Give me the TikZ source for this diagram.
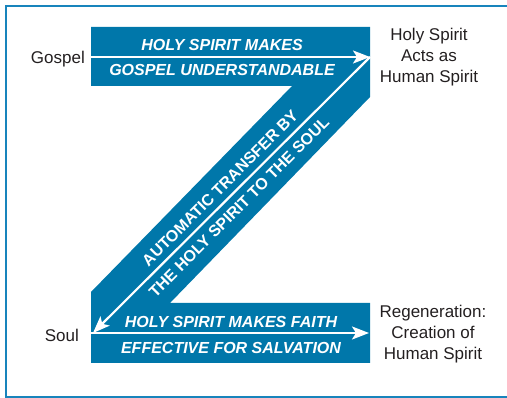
\documentclass[tikz,border=0pt]{standalone}
\usepackage{fontspec}
\setmainfont{Liberation Sans}
\usepackage{tikz}
\usetikzlibrary{calc,arrows.meta,positioning}
\definecolor{zblue}{RGB}{0,119,170}
\definecolor{frameblue}{RGB}{24,132,188}
\definecolor{labelgray}{RGB}{35,31,32}
\tikzset{
	bandtext/.style={text=white,inner sep=0pt,font=\fontsize{16}{16}\selectfont\bfseries\itshape},
	diagtext/.style={text=white,inner sep=0pt,rotate=45,font=\fontsize{16}{16}\selectfont\bfseries},
	sidelabel/.style={text=labelgray,inner sep=0pt,align=center,font=\fontsize{17}{21}\selectfont},
	whitearrow/.style={-{Stealth[length=17pt,width=13pt,inset=4pt]},white,line width=2.2pt}
}
\begin{document}
\begin{tikzpicture}[x=1pt,y=-1pt]
	\useasboundingbox (0,0) rectangle (507,398);
	% frame, open on the right
	\draw[frameblue,line width=2.5pt] (520,6) -- (6,6) -- (6,397) -- (520,397);
	% the Z band
	\fill[zblue] (91,27) -- (370,27) -- (370,97) -- (170,303) -- (370,303) -- (370,363)
		-- (91,363) -- (91,292) -- (292,86) -- (91,86) -- cycle;
	\coordinate(gin) at (91,57);
	\coordinate(gtip) at (370,57);
	\coordinate(sin) at (91,333);
	\coordinate(soulend) at (93,333);
	\coordinate(stip) at (369,333);
	\node(gospel) [sidelabel,anchor=base east] at (85,64) {Gospel};
	\node(soul) [sidelabel,anchor=base east] at (79,342) {Soul};
	\node(hsacts) [sidelabel] at (429,57) {Holy Spirit\\Acts as\\Human Spirit};
	\node(regen) [sidelabel] at (433,334) {Regeneration:\\Creation of\\Human Spirit};
	\node(makes) [bandtext] at (222,44.5) {HOLY SPIRIT MAKES};
	\node(understand) [bandtext] at (222,70) {GOSPEL UNDERSTANDABLE};
	\node(faith) [bandtext] at (231,321.5) {HOLY SPIRIT MAKES FAITH};
	\node(salvation) [bandtext] at (231,347.5) {EFFECTIVE FOR SALVATION};
	\node(transfer) [diagtext] at (220,188) {AUTOMATIC TRANSFER BY};
	\node(tosoul) [diagtext] at (239,207) {THE HOLY SPIRIT TO THE SOUL};
	\draw[whitearrow] (gin) -- (gtip);
	\draw[whitearrow] (gtip) -- (soulend);
	\draw[whitearrow] (sin) -- (stip);
\end{tikzpicture}
\end{document}
